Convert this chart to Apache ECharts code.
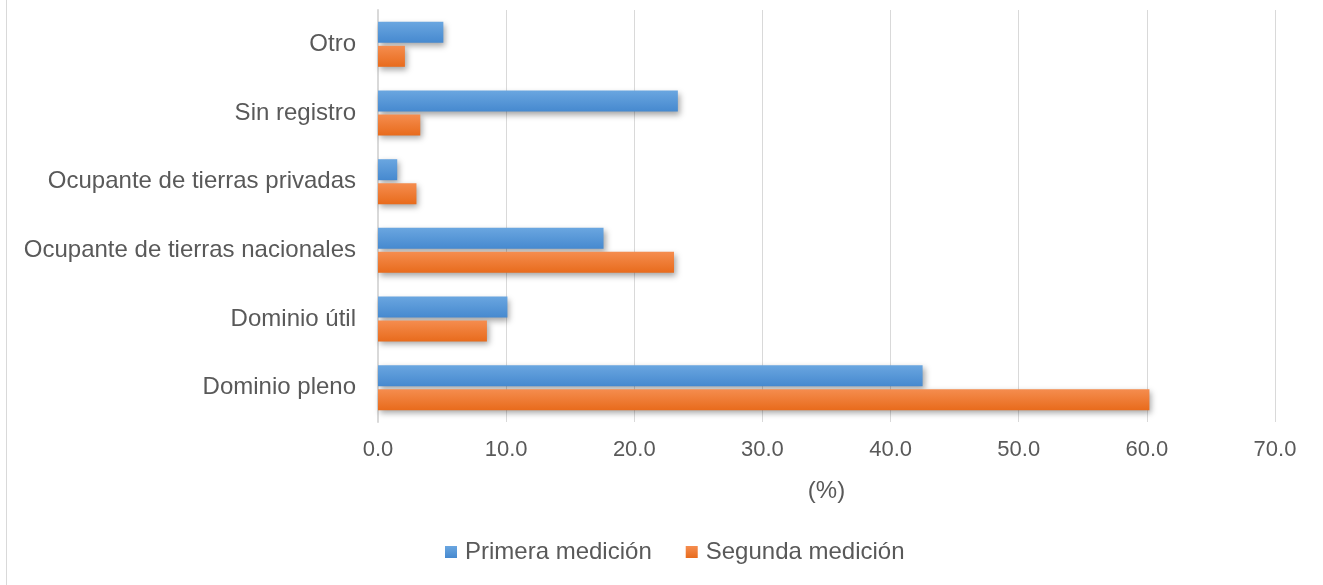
<!DOCTYPE html>
<html>
<head>
<meta charset="utf-8">
<script src="https://cdn.jsdelivr.net/npm/echarts@6/dist/echarts.min.js"></script>
<style>
  html, body { margin: 0; padding: 0; background: #fff; }
  #chart { width: 1323px; height: 585px; }
  .frame { position: absolute; left: 6px; top: 0; width: 1px; height: 585px; background: #d9d9d9; }
</style>
</head>
<body>
<div class="frame"></div>
<div id="chart"></div>
<script>
// categorias (de arriba hacia abajo)
var categorias = ['Otro', 'Sin registro', 'Ocupante de tierras privadas', 'Ocupante de tierras nacionales', 'Dominio útil', 'Dominio pleno'];
var primera = [5.1, 23.4, 1.5, 17.6, 10.1, 42.5];
var segunda = [2.1, 3.3, 3.0, 23.1, 8.5, 60.2];
var ticks = [0, 10, 20, 30, 40, 50, 60, 70];

var font = '"Liberation Sans", Arial, sans-serif';

function grad(c1, c2) {
  return new echarts.graphic.LinearGradient(0, 0, 0, 1, [
    { offset: 0, color: c1 },
    { offset: 1, color: c2 }
  ]);
}

var chart = echarts.init(document.getElementById('chart'));
chart.setOption({
  animation: false,
  textStyle: { fontFamily: font },
  grid: { left: 378, right: 48, top: 10, bottom: 163, containLabel: false },
  legend: {
    bottom: 16,
    left: 440,
    itemWidth: 12,
    itemHeight: 12,
    itemGap: 34,
    icon: 'rect',
    textStyle: { fontSize: 24, color: '#595959', fontFamily: font, padding: [0, 0, 0, 3] },
    data: ['Primera medición', 'Segunda medición']
  },
  xAxis: {
    type: 'value',
    min: ticks[0],
    max: ticks[ticks.length - 1],
    interval: 10,
    name: '(%)',
    nameLocation: 'middle',
    nameGap: 57,
    nameTextStyle: { fontSize: 24, color: '#595959' },
    axisLine: { show: false },
    axisTick: { show: false },
    axisLabel: {
      fontSize: 22,
      color: '#595959',
      margin: 17,
      formatter: function (v) { return v.toFixed(1); }
    },
    splitLine: { show: true, lineStyle: { color: '#d9d9d9', width: 1 } }
  },
  yAxis: {
    type: 'category',
    inverse: true,
    data: categorias,
    axisLine: { show: true, lineStyle: { color: '#d9d9d9', width: 2 } },
    axisTick: { show: false },
    axisLabel: { fontSize: 24, color: '#595959', margin: 22 }
  },
  series: [
    {
      name: 'Primera medición',
      type: 'bar',
      data: primera,
      barWidth: 21,
      barGap: '14%',
      itemStyle: {
        color: grad('#6aa6e0', '#4689cf'),
        shadowBlur: 6,
        shadowColor: 'rgba(0,0,0,0.35)',
        shadowOffsetX: 2,
        shadowOffsetY: 3
      }
    },
    {
      name: 'Segunda medición',
      type: 'bar',
      data: segunda,
      barWidth: 21,
      barGap: '14%',
      itemStyle: {
        color: grad('#f58d4f', '#e86b1c'),
        shadowBlur: 6,
        shadowColor: 'rgba(0,0,0,0.35)',
        shadowOffsetX: 2,
        shadowOffsetY: 3
      }
    }
  ]
});
</script>
</body>
</html>
